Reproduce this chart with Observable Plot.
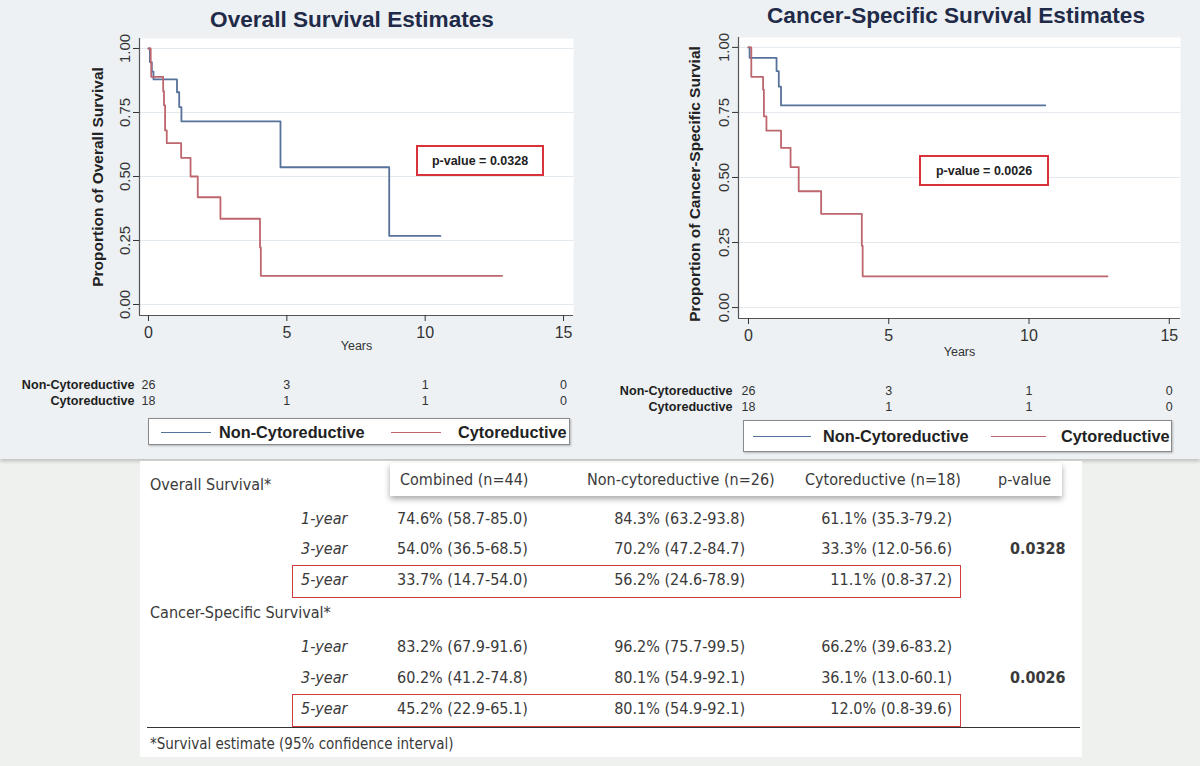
<!DOCTYPE html>
<html>
<head>
<meta charset="utf-8">
<script src="https://cdn.jsdelivr.net/npm/d3@7"></script>
<script src="https://cdn.jsdelivr.net/npm/@observablehq/plot@0.6"></script>
<style>
  body { margin: 0; background: #eff1ee; }
  #page { position: relative; width: 1200px; height: 766px; overflow: hidden; font-family: "Liberation Sans", Arial, sans-serif; }
  #charts { position: absolute; left: 0; top: 0; width: 1200px; height: 459px; background: #edf1f4; box-shadow: 0 2px 4px rgba(0,0,0,0.22); }
  .abs { position: absolute; }
  .title { position: absolute; font-weight: bold; font-size: 22.6px; color: #1f2b48; transform: translate(-50%, -50%); white-space: nowrap; }
  .pbox { position: absolute; box-sizing: border-box; border: 2px solid #d8333a; background: #fff; font-weight: bold; font-size: 12.5px; color: #222; display: flex; align-items: center; justify-content: center; }
  .legend { position: absolute; box-sizing: border-box; border: 1px solid #8a8a8a; background: #fff; box-shadow: 1px 1px 2px rgba(0,0,0,0.25); }
  .legend .sw { position: absolute; height: 0; border-top: 1.6px solid; }
  .legend .lt { position: absolute; font-size: 16.3px; font-weight: bold; color: #222; transform: translateY(-50%); white-space: nowrap; }
  #panel { position: absolute; left: 140px; top: 461px; width: 942px; height: 296px; background: #fff; }
  .tc { position: absolute; font-family: "Liberation Sans Narrow", "DejaVu Sans Condensed", sans-serif; font-stretch: condensed; font-size: 16px; color: #3a3a3a; white-space: nowrap; line-height: 1; transform: translateY(-50%); }
  .tc.r { transform: translate(-100%, -50%); }
  .tc.it { font-style: italic; }
  .tc.b { font-weight: bold; }
  .hl { position: absolute; box-sizing: border-box; border: 1px solid #d23c3c; }
</style>
</head>
<body>
<div id="page">
  <div id="charts"></div>
  <div id="panel"></div>
</div>
<script>
// ---- Kaplan-Meier step estimates (years, survival proportion) ----
const groups = ["Non-Cytoreductive", "Cytoreductive"];
const groupColors = ["#57729a", "#bd666d"];

const osNonTime = [0, 0.05, 0.12, 0.18, 1.03, 1.11, 1.19, 4.77, 8.7, 10.55];
const osNonSurv = [1, 0.947, 0.91, 0.879, 0.829, 0.771, 0.715, 0.536, 0.268, 0.268];
const osCytoTime = [0, 0.08, 0.1, 0.53, 0.56, 0.6, 0.66, 1.18, 1.52, 1.78, 2.6, 4.03, 4.06, 12.78];
const osCytoSurv = [1, 0.944, 0.889, 0.833, 0.778, 0.68, 0.63, 0.573, 0.5, 0.419, 0.335, 0.223, 0.112, 0.112];

const cssNonTime = [0, 0.04, 1.0, 1.08, 1.16, 10.58];
const cssNonSurv = [1, 0.96, 0.909, 0.849, 0.777, 0.777];
const cssCytoTime = [0, 0.1, 0.52, 0.55, 0.64, 1.16, 1.5, 1.79, 2.59, 4.04, 4.07, 12.8];
const cssCytoSurv = [1, 0.887, 0.838, 0.735, 0.68, 0.614, 0.54, 0.447, 0.36, 0.238, 0.12, 0.12];

// ---- numbers at risk ----
const riskTimes = [0, 5, 10, 15];
const riskNon = [26, 3, 1, 0];
const riskCyto = [18, 1, 1, 0];

// ---- axes ----
const xTicks = [0, 5, 10, 15];
const yTicks = [0, 0.25, 0.5, 0.75, 1];

// ---- p-values ----
const pOverall = "0.0328";
const pCancer = "0.0026";

// ---- estimates table ----
const tableHeader = ["Combined (n=44)", "Non-cytoreductive (n=26)", "Cytoreductive (n=18)", "p-value"];
const horizons = ["1-year", "3-year", "5-year"];
const osCombined = ["74.6% (58.7-85.0)", "54.0% (36.5-68.5)", "33.7% (14.7-54.0)"];
const osNonCyto = ["84.3% (63.2-93.8)", "70.2% (47.2-84.7)", "56.2% (24.6-78.9)"];
const osCyto = ["61.1% (35.3-79.2)", "33.3% (12.0-56.6)", "11.1% (0.8-37.2)"];
const cssCombined = ["83.2% (67.9-91.6)", "60.2% (41.2-74.8)", "45.2% (22.9-65.1)"];
const cssNonCyto = ["96.2% (75.7-99.5)", "80.1% (54.9-92.1)", "80.1% (54.9-92.1)"];
const cssCyto = ["66.2% (39.6-83.2)", "36.1% (13.0-60.1)", "12.0% (0.8-39.6)"];

const page = document.getElementById("page");
const charts = document.getElementById("charts");

function steps(time, surv, group) {
  return time.map((t, i) => ({t, s: surv[i], g: group}));
}

function kmPlot(o) {
  const data = [...steps(o.nonTime, o.nonSurv, groups[0]), ...steps(o.cytoTime, o.cytoSurv, groups[1])];
  return Plot.plot({
    width: o.width, height: o.height,
    marginLeft: o.ml, marginRight: o.mr, marginTop: o.mt, marginBottom: o.mb,
    x: {domain: o.xDomain},
    y: {domain: o.yDomain},
    color: {domain: groups, range: groupColors},
    style: {background: "transparent", fontFamily: "Liberation Sans, Arial, sans-serif", overflow: "visible"},
    marks: [
      Plot.frame({fill: "#fff", stroke: "none"}),
      Plot.gridY(yTicks, {stroke: "#e2e9ee", strokeOpacity: 1}),
      Plot.ruleX([o.xDomain[0]], {stroke: "#555", strokeWidth: 1.2}),
      Plot.ruleY([o.yDomain[0]], {stroke: "#555", strokeWidth: 1.2}),
      Plot.axisX(xTicks, {tickSize: 6, tickPadding: 5, fontSize: 16, color: "#333", label: null}),
      Plot.axisY(yTicks, {tickSize: 6, tickPadding: 4, tickRotate: -90, tickFormat: d3.format(".2f"), fontSize: 15, color: "#333", label: null}),
      Plot.line(data, {x: "t", y: "s", z: "g", stroke: "g", curve: "step-after", strokeWidth: 1.8}),
      Plot.text([o.yLabel], {frameAnchor: "left", textAnchor: "middle", rotate: -90, dx: o.labelDx, dy: o.labelDy, fontWeight: "bold", fontSize: 15.5, fill: "#222"}),
      Plot.text(["Years"], {frameAnchor: "bottom", dy: o.yearsDy, fontSize: 12.5, fill: "#333"})
    ]
  });
}

function riskPlot(o) {
  const data = [
    ...riskTimes.map((t, i) => ({t, g: groups[0], n: riskNon[i]})),
    ...riskTimes.map((t, i) => ({t, g: groups[1], n: riskCyto[i]}))
  ];
  return Plot.plot({
    width: o.width, height: 34,
    marginLeft: o.ml, marginRight: o.mr, marginTop: 2, marginBottom: 0,
    x: {domain: o.xDomain, axis: null},
    y: {type: "band", domain: groups, padding: 0},
    style: {background: "transparent", fontFamily: "Liberation Sans, Arial, sans-serif", overflow: "visible"},
    marks: [
      Plot.axisY({tickSize: 0, tickPadding: o.pad, fontWeight: "bold", fontSize: 12.6, color: "#1e1e1e", label: null}),
      Plot.text(data, {x: "t", y: "g", text: "n", fontSize: 12.5, fill: "#333"})
    ]
  });
}

function place(node, left, top) {
  node.style.position = "absolute";
  node.style.left = left + "px";
  node.style.top = top + "px";
  charts.appendChild(node);
}

function addDiv(parent, cls, html, css) {
  const d = document.createElement("div");
  d.className = cls;
  if (html != null) d.textContent = html;
  Object.assign(d.style, css);
  parent.appendChild(d);
  return d;
}

function legend(left, top, width, height, swatches) {
  const box = addDiv(charts, "legend", null, {left: left + "px", top: top + "px", width: width + "px", height: height + "px"});
  swatches.forEach(([x0, x1, tx], i) => {
    addDiv(box, "sw", null, {left: x0 + "px", width: (x1 - x0) + "px", top: (height / 2 - 1) + "px", borderColor: groupColors[i]});
    addDiv(box, "lt", groups[i], {left: tx + "px", top: (height / 2 - 1) + "px"});
  });
}

// Overall survival panel
const osX = [-0.325, 15.36], osY = [-0.043, 1.039];
place(kmPlot({
  width: 600, height: 360, ml: 139, mr: 27, mt: 38, mb: 45,
  xDomain: osX, yDomain: osY,
  nonTime: osNonTime, nonSurv: osNonSurv, cytoTime: osCytoTime, cytoSurv: osCytoSurv,
  yLabel: "Proportion of Overall Survival", labelDx: -41, labelDy: 0, yearsDy: 34
}), 0, 0);
place(riskPlot({width: 600, ml: 139, mr: 27, xDomain: osX, pad: 5}), 0, 374);

// Cancer-specific survival panel
const cssX = [-0.356, 15.40], cssY = [-0.042, 1.038];
place(kmPlot({
  width: 600, height: 365, ml: 138, mr: 20, mt: 37, mb: 47,
  xDomain: cssX, yDomain: cssY,
  nonTime: cssNonTime, nonSurv: cssNonSurv, cytoTime: cssCytoTime, cytoSurv: cssCytoSurv,
  yLabel: "Proportion of Cancer-Specific Survial", labelDx: -43, labelDy: 6, yearsDy: 37
}), 600, 0);
place(riskPlot({width: 600, ml: 138, mr: 20, xDomain: cssX, pad: 6}), 600, 380);

// titles
addDiv(charts, "title", "Overall Survival Estimates", {left: "352px", top: "20px"});
addDiv(charts, "title", "Cancer-Specific Survival Estimates", {left: "956px", top: "16px"});

// p-value boxes
addDiv(charts, "pbox", "p-value = " + pOverall, {left: "416px", top: "145px", width: "128px", height: "31px"});
addDiv(charts, "pbox", "p-value = " + pCancer, {left: "919px", top: "155px", width: "130px", height: "31px"});

// legends
legend(148, 418, 422, 27, [[12, 62, 70], [242, 292, 309]]);
legend(743, 420, 429, 32, [[9, 67, 79], [247, 302, 317]]);

// ---- estimates table ----
addDiv(page, "abs", null, {left: "390px", top: "463px", width: "672px", height: "33px", background: "#fff", boxShadow: "0 3px 6px rgba(0,0,0,0.35)"});
const headerX = [400, 587, 805, 998];
tableHeader.forEach((h, i) => addDiv(page, "tc", h, {left: headerX[i] + "px", top: "480px"}));

function section(title, titleY, rowY, combined, nonCyto, cyto, p, boxY) {
  addDiv(page, "tc", title, {left: "150px", top: titleY + "px"});
  addDiv(page, "hl", null, {left: "292px", top: boxY + "px", width: "669px", height: "33px"});
  horizons.forEach((h, i) => {
    const y = rowY[i] + "px";
    addDiv(page, "tc it", h, {left: "301px", top: y});
    addDiv(page, "tc", combined[i], {left: "397px", top: y});
    addDiv(page, "tc r", nonCyto[i], {left: "745px", top: y});
    addDiv(page, "tc r", cyto[i], {left: "952px", top: y});
  });
  addDiv(page, "tc b", p, {left: "1010px", top: rowY[1] + "px"});
}
section("Overall Survival*", 485, [519, 549, 580], osCombined, osNonCyto, osCyto, pOverall, 565);
section("Cancer-Specific Survival*", 613, [647, 678, 709], cssCombined, cssNonCyto, cssCyto, pCancer, 694);

addDiv(page, "abs", null, {left: "147px", top: "727px", width: "933px", height: "0", borderTop: "1.5px solid #333"});
addDiv(page, "tc", "*Survival estimate (95% confidence interval)", {left: "150px", top: "744px", fontSize: "15px"});
</script>
</body>
</html>
